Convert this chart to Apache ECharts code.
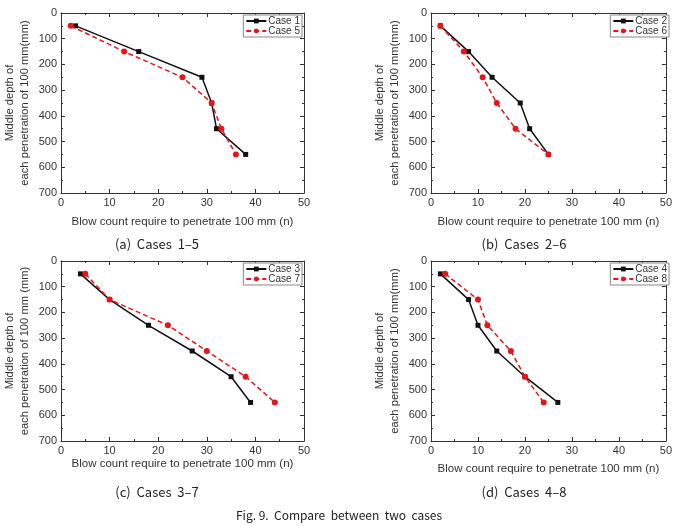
<!DOCTYPE html>
<html lang="en">
<head>
    <meta charset="UTF-8">
    <title>Compare between two cases</title>
    <style>
        html, body { margin: 0; padding: 0; background: #fff; }
        #main { width: 675px; height: 526px; }
    </style>
</head>
<body>
<div id="main"></div>
<script src="https://cdn.jsdelivr.net/npm/echarts@6/dist/echarts.min.js"></script>
<script type="text/javascript">
    // depth of each penetration (mm)
    var depth = [50, 150, 250, 350, 450, 550];

    // blow counts
    var case1 = [3, 16, 29, 31, 32, 38];
    var case5 = [2, 13, 25, 31, 33, 36];
    var case2 = [2, 8, 13, 19, 21, 25];
    var case6 = [2, 7, 11, 14, 18, 25];
    var case3 = [4, 10, 18, 27, 35, 39];
    var case7 = [5, 10, 22, 30, 38, 44];
    var case4 = [2, 8, 10, 14, 20, 27];
    var case8 = [3, 10, 12, 17, 20, 24];

    var panels = [
        {a: case1, b: case5, na: 'Case 1', nb: 'Case 5', cap: '(a)  Cases  1\u20135', yname: 'Middle depth of\neach penetration of 100 mm(mm)'},
        {a: case2, b: case6, na: 'Case 2', nb: 'Case 6', cap: '(b)  Cases  2\u20136', yname: 'Middle depth of\neach penetration of 100 mm(mm)'},
        {a: case3, b: case7, na: 'Case 3', nb: 'Case 7', cap: '(c)  Cases  3\u20137', yname: 'Middle depth of\neach penetration of 100 mm (mm)'},
        {a: case4, b: case8, na: 'Case 4', nb: 'Case 8', cap: '(d)  Cases  4\u20138', yname: 'Middle depth of\neach penetration of 100 mm(mm)'}
    ];

    // grid boxes, title gaps, legend right offset, caption centre
    var boxes = [
        {left: 61, top: 13, xgap: 23, lr: 373, cap: [157, 244]},
        {left: 431, top: 13, xgap: 23, lr: 6, cap: [524, 244]},
        {left: 61, top: 261, xgap: 17, lr: 373, cap: [157, 492]},
        {left: 431, top: 261, xgap: 22, lr: 6, cap: [524, 492]}
    ];

    var W = 243, H = 180;
    var font = 'Liberation Sans, Arial, sans-serif';
    var txt = '#333';

    function zip(xs) {
        return xs.map(function (x, i) { return [x, depth[i]]; });
    }

    var grid = [], xAxis = [], yAxis = [], series = [], legend = [], graphic = [];

    panels.forEach(function (p, i) {
        var b = boxes[i];
        grid.push({left: b.left, top: b.top, width: W, height: H, containLabel: false});

        var tick = {show: true, inside: true, length: 4, lineStyle: {color: '#333'}};
        var minor = {show: true, splitNumber: 2, length: 2, lineStyle: {color: '#333'}};
        var line = {show: true, onZero: false, lineStyle: {color: '#333', width: 1}};

        xAxis.push({
            gridIndex: i, type: 'value', min: 0, max: 50, interval: 10,
            name: 'Blow count require to penetrate 100 mm (n)',
            nameLocation: 'middle', nameGap: b.xgap,
            nameTextStyle: {fontFamily: font, fontSize: 11.5, color: txt},
            axisLine: line, axisTick: tick, minorTick: minor,
            axisLabel: {fontFamily: font, fontSize: 11, color: txt, margin: 4},
            splitLine: {show: false}
        });
        xAxis.push({
            gridIndex: i, type: 'value', position: 'top', min: 0, max: 50, interval: 10,
            axisLine: line, axisTick: tick, minorTick: minor,
            axisLabel: {show: false}, splitLine: {show: false}
        });
        yAxis.push({
            gridIndex: i, type: 'value', inverse: true, min: 0, max: 700, interval: 100,
            name: p.yname, nameLocation: 'middle', nameGap: 29, nameRotate: 90,
            nameTextStyle: {fontFamily: font, fontSize: 11.2, color: txt, lineHeight: 15},
            axisLine: line, axisTick: tick, minorTick: minor,
            axisLabel: {fontFamily: font, fontSize: 11, color: txt, margin: 4},
            splitLine: {show: false}
        });
        yAxis.push({
            gridIndex: i, type: 'value', position: 'right', inverse: true, min: 0, max: 700, interval: 100,
            axisLine: line, axisTick: tick, minorTick: minor,
            axisLabel: {show: false}, splitLine: {show: false}
        });

        series.push({
            name: p.na, type: 'line', xAxisIndex: i * 2, yAxisIndex: i * 2,
            data: zip(p.a), symbol: 'rect', symbolSize: 5,
            lineStyle: {color: '#111', width: 1.5},
            itemStyle: {color: '#111'}, z: 2
        });
        series.push({
            name: p.nb, type: 'line', xAxisIndex: i * 2, yAxisIndex: i * 2,
            data: zip(p.b), symbol: 'circle', symbolSize: 6,
            lineStyle: {color: '#e8141b', width: 1.5, type: [5, 3]},
            itemStyle: {color: '#e8141b'}, z: 3
        });

        legend.push({
            data: [p.na, p.nb], orient: 'vertical',
            right: b.lr, top: b.top + 2,
            itemWidth: 20, itemHeight: 6, itemGap: 0,
            padding: [1, 2, 1, 2],
            borderColor: '#888', borderWidth: 1, borderRadius: 0,
            backgroundColor: '#fff',
            textStyle: {fontFamily: font, fontSize: 10, color: txt, padding: [0, 0, 0, -3]}
        });

        graphic.push({
            type: 'text', x: b.cap[0], y: b.cap[1], z: 10,
            style: {text: p.cap, font: '13px "Noto Sans CJK KR", sans-serif', fill: '#222', textAlign: 'center', textVerticalAlign: 'middle'}
        });
    });

    graphic.push({
        type: 'text', x: 339, y: 515, z: 10,
        style: {text: 'Fig. 9.  Compare  between  two  cases', font: '12px "Noto Sans CJK KR", sans-serif', fill: '#222', textAlign: 'center', textVerticalAlign: 'middle'}
    });

    var myChart = echarts.init(document.getElementById('main'), null, {renderer: 'canvas'});
    myChart.setOption({
        animation: false,
        backgroundColor: '#fff',
        grid: grid,
        xAxis: xAxis,
        yAxis: yAxis,
        legend: legend,
        series: series,
        graphic: graphic
    });
</script>
</body>
</html>
